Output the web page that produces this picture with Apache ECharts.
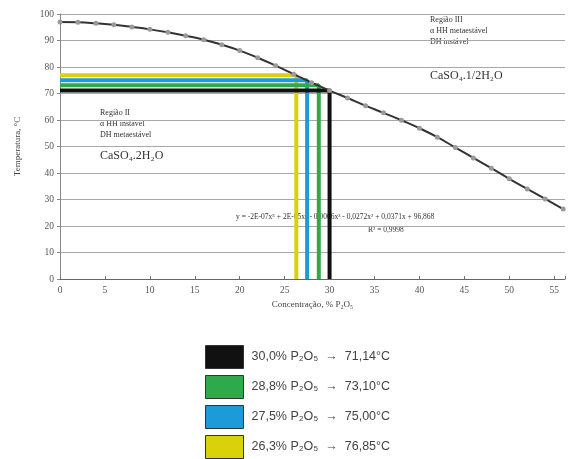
<!DOCTYPE html>
<html>
<head>
<meta charset="utf-8">
<script src="https://cdn.jsdelivr.net/npm/echarts@6/dist/echarts.min.js"></script>
<style>html,body{margin:0;padding:0;background:#fff}#c{width:568px;height:459px}</style>
</head>
<body>
<div id="c"></div>
<script>
// Data
var concentrations = [0,2,4,6,8,10,12,14,16,18,20,22,24,26,28,30,32,34,36,38,40,42,44,46,48,50,52,54,56];
var temperatures = [97.0,96.9,96.5,95.9,95.1,94.2,93.1,91.8,90.3,88.4,86.2,83.5,80.5,77.3,74.1,71.1,68.3,65.4,62.7,59.9,56.9,53.5,49.6,45.7,41.8,37.8,34.0,30.2,26.4];
var markerConc = [30.0, 28.8, 27.5, 26.3];
var markerTemp = [71.14, 73.10, 75.00, 76.85];
var markerLabels = ['30,0% P₂O₅  →  71,14°C','28,8% P₂O₅  →  73,10°C','27,5% P₂O₅  →  75,00°C','26,3% P₂O₅  →  76,85°C'];
var markerColors = ['#111111','#2eaa4a','#1c9bd8','#d9d20a'];
var xTicks = [0,5,10,15,20,25,30,35,40,45,50,55];
var yTicks = [0,10,20,30,40,50,60,70,80,90,100];

var chart = echarts.init(document.getElementById('c'));
var serif = '"Liberation Serif","DejaVu Serif",serif';

var series = [];
for (var i = 0; i < markerConc.length; i++) {
  series.push({
    name: markerLabels[i],
    type: 'line',
    color: markerColors[i],
    symbol: 'none',
    z: 2 + (markerConc.length - i),
    lineStyle: {width: 4, color: markerColors[i]},
    data: [[0, markerTemp[i]], [markerConc[i], markerTemp[i]], [markerConc[i], 0]]
  });
}
var curveData = concentrations.map(function (c, k) { return [c, temperatures[k]]; });
series.push({
  name: 'curve',
  type: 'line',
  smooth: true,
  z: 10,
  symbol: 'circle',
  symbolSize: 5,
  itemStyle: {color: '#9a9a9a', borderColor: '#9a9a9a', borderWidth: 0},
  lineStyle: {width: 2, color: '#333'},
  data: curveData
});

chart.setOption({
  animation: false,
  backgroundColor: '#fff',
  grid: {left: 60, right: 0, top: 14, bottom: 180, containLabel: false},
  xAxis: {
    type: 'value', min: 0, max: 56.2, interval: 5,
    name: 'Concentração, % P₂O₅', nameLocation: 'middle', nameGap: 20,
    nameTextStyle: {fontFamily: serif, fontSize: 9, color: '#444'},
    axisLine: {lineStyle: {color: '#666', width: 1}},
    axisTick: {show: true, length: 3, inside: true, lineStyle: {color: '#777'}},
    axisLabel: {fontFamily: serif, fontSize: 9.5, color: '#555', margin: 6,
      formatter: function (v) { return xTicks.indexOf(v) >= 0 ? String(v) : ''; }},
    splitLine: {show: false}
  },
  yAxis: {
    type: 'value', min: 0, max: 100, interval: 10,
    name: 'Temperatura, °C', nameLocation: 'middle', nameGap: 38,
    nameTextStyle: {fontFamily: serif, fontSize: 9, color: '#444'},
    axisLine: {show: true, lineStyle: {color: '#888', width: 1}},
    axisTick: {show: true, length: 3, lineStyle: {color: '#888'}},
    axisLabel: {fontFamily: serif, fontSize: 9.5, color: '#555', margin: 6,
      formatter: function (v) { return yTicks.indexOf(v) >= 0 ? String(v) : ''; }},
    splitLine: {show: true, lineStyle: {color: '#a8a8a8', width: 1}}
  },
  legend: {
    data: markerLabels,
    orient: 'vertical',
    left: 205, top: 345, height: 120, width: 300,
    padding: 0,
    icon: 'rect',
    itemWidth: 38, itemHeight: 23,
    itemGap: 6,
    itemStyle: {borderColor: '#333', borderWidth: 1},
    textStyle: {fontFamily: '"Liberation Sans",Arial,sans-serif', fontSize: 12.5, color: '#444', padding: [0,0,0,3]},
    selectedMode: false
  },
  graphic: [
    {type: 'text', left: 430, top: 14, style: {text: 'Região III\nα HH metaestável\nDH instável', font: '8px ' + serif, fill: '#333', lineHeight: 11}},
    {type: 'text', left: 430, top: 70, style: {text: 'CaSO₄.1/2H₂O', font: '12px ' + serif, fill: '#333'}},
    {type: 'text', left: 100, top: 107, style: {text: 'Região II\nα HH instável\nDH metaestável', font: '8px ' + serif, fill: '#333', lineHeight: 11}},
    {type: 'text', left: 100, top: 150, style: {text: 'CaSO₄.2H₂O', font: '12px ' + serif, fill: '#333'}},
    {type: 'text', left: 236, top: 213, style: {text: 'y = -2E-07x⁵ + 2E-05x⁴ - 0,0006x³ - 0,0272x² + 0,0371x + 96,868', font: '7.5px ' + serif, fill: '#333'}},
    {type: 'text', left: 368, top: 226, style: {text: 'R² = 0,9998', font: '7.5px ' + serif, fill: '#333'}}
  ],
  series: series
});
</script>
</body>
</html>
